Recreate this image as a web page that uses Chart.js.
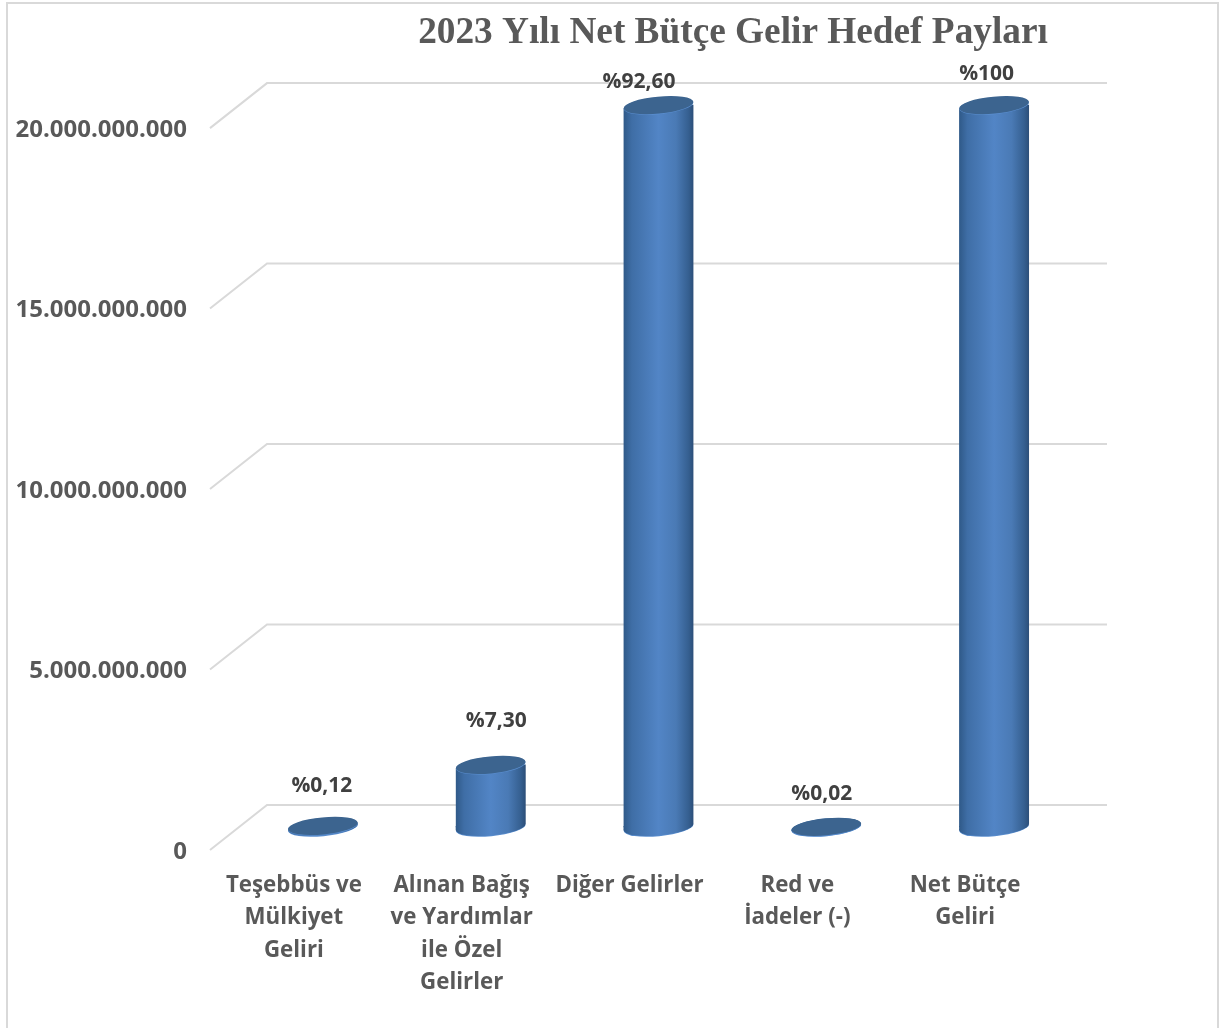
<!DOCTYPE html>
<html>
<head>
<meta charset="utf-8">
<style>
    html, body { margin: 0; padding: 0; background: #fff; overflow: hidden; }
    #wrap { position: relative; width: 1220px; height: 1028px; }
    #frame { position: absolute; left: 6px; top: 2px; width: 1209px; height: 1040px; border: 2px solid #d9d9d9; }
    canvas { position: absolute; left: 0; top: 0; }
</style>
<script src="https://cdn.jsdelivr.net/npm/chart.js@4"></script>
</head>
<body>
<div id="wrap">
    <div id="frame"></div>
    <canvas id="chart" width="1220" height="1028"></canvas>
</div>
<script>
const chartTitle = '2023 Yılı Net Bütçe Gelir Hedef Payları';
const categories = [
    ['Teşebbüs ve', 'Mülkiyet', 'Geliri'],
    ['Alınan Bağış', 've Yardımlar', 'ile Özel', 'Gelirler'],
    'Diğer Gelirler',
    ['Red ve', 'İadeler (-)'],
    ['Net Bütçe', 'Geliri']
];
const targetValues = [30000000, 1720000000, 20000000000, 5000000, 20000000000];
const shareLabels = ['%0,12', '%7,30', '%92,60', '%0,02', '%100'];
const yTicks = [0, 5000000000, 10000000000, 15000000000, 20000000000];

// label placement relative to the top of each cylinder
const labelLift = [39.5, 44, 23, 33, 31];
const labelNudge = [-1, 5.5, -19.5, -4.5, -7.5];

// fake 3D: the bars stand in the middle of the floor
const depthX = 57, depthY = 45;
const barShiftX = 29, barShiftY = 25;
const barWidth = 70, capRy = 8.5, capTilt = -0.095;
const gridLift = 2; // tick text sits a little lower than its gridline

const textFont = '"Open Sans", sans-serif';

const ellipse = (ctx, x, y, fill) => {
    ctx.beginPath();
    ctx.ellipse(x, y, barWidth / 2, capRy, capTilt, 0, Math.PI * 2);
    ctx.fillStyle = fill;
    ctx.fill();
};

const bodyGradient = (ctx, x) => {
    const left = x - barWidth / 2;
    const g = ctx.createLinearGradient(left, 0, left + barWidth, 0);
    g.addColorStop(0, '#2f5988');
    g.addColorStop(0.12, '#3f6ea6');
    g.addColorStop(0.5, '#5285c6');
    g.addColorStop(0.75, '#4a7ab5');
    g.addColorStop(0.93, '#355f90');
    g.addColorStop(1, '#2c4e78');
    return g;
};

const floorGrid = {
    id: 'floorGrid',
    beforeDatasetsDraw(chart) {
        const { ctx, chartArea, scales } = chart;
        ctx.save();
        ctx.strokeStyle = '#d9d9d9';
        ctx.lineWidth = 2;
        scales.y.ticks.forEach(t => {
            const y = scales.y.getPixelForValue(t.value) - gridLift;
            ctx.beginPath();
            ctx.moveTo(chartArea.left, y);
            ctx.lineTo(chartArea.left + depthX, y - depthY);
            ctx.lineTo(chartArea.right + depthX + 1, y - depthY);
            ctx.stroke();
        });
        ctx.restore();
    }
};

// moves the library's bars back onto the middle plane and adds the round ends
const cylinders = {
    id: 'cylinders',
    beforeDatasetDraw(chart) {
        const ctx = chart.ctx;
        const bars = chart.getDatasetMeta(0).data;
        const slant = barWidth / 2 * Math.sin(-capTilt);
        ctx.save();
        ctx.translate(barShiftX, -barShiftY);
        bars.forEach(bar => {
            const l = bar.x - barWidth / 2;
            ellipse(ctx, bar.x, bar.base + 0.7, '#5b8fd0');
            ellipse(ctx, bar.x, bar.base, bodyGradient(ctx, bar.x));
            // left wall has to run down to the low end of the tilted base
            if (bar.base - bar.y > 2) {
                ctx.beginPath();
                ctx.moveTo(l, bar.base - 1);
                ctx.lineTo(l, bar.base + slant);
                ctx.lineTo(bar.x, bar.base);
                ctx.closePath();
                ctx.fillStyle = bodyGradient(ctx, bar.x);
                ctx.fill();
            }
        });
        // cut the square bar ends so they follow the tilted caps
        ctx.save();
        ctx.beginPath();
        bars.forEach(bar => {
            const l = bar.x - barWidth / 2, r = bar.x + barWidth / 2;
            ctx.moveTo(l, bar.y + slant);
            ctx.lineTo(r, bar.y - slant);
            ctx.lineTo(r, bar.base - slant);
            ctx.lineTo(l, bar.base + slant);
            ctx.closePath();
        });
        ctx.clip();
    },
    afterDatasetDraw(chart) {
        const ctx = chart.ctx;
        ctx.restore();
        chart.getDatasetMeta(0).data.forEach(bar => {
            ellipse(ctx, bar.x, bar.y + 0.6, '#5b8fd0');
            ellipse(ctx, bar.x, bar.y, '#3c648f');
        });
        ctx.restore();
    }
};

const shareText = {
    id: 'shareText',
    afterDraw(chart) {
        const { ctx } = chart;
        ctx.save();
        ctx.textAlign = 'center';
        ctx.textBaseline = 'middle';
        ctx.fillStyle = '#404040';
        ctx.font = 'bold 21px ' + textFont;
        chart.getDatasetMeta(0).data.forEach((bar, i) => {
            ctx.fillText(shareLabels[i], bar.x + barShiftX + labelNudge[i], bar.y - barShiftY - labelLift[i]);
        });
        ctx.fillStyle = '#595959';
        ctx.font = 'bold 37.3px "Liberation Serif", serif';
        ctx.fillText(chartTitle, 733, 33);
        ctx.restore();
    }
};

new Chart(document.getElementById('chart'), {
    type: 'bar',
    data: {
        labels: categories,
        datasets: [{
            data: targetValues,
            barThickness: barWidth,
            clip: false,
            backgroundColor: c => {
                const x = c.chart.scales.x;
                return x && c.dataIndex !== undefined
                    ? bodyGradient(c.chart.ctx, x.getPixelForTick(c.dataIndex))
                    : '#4f81bd';
            }
        }]
    },
    plugins: [floorGrid, cylinders, shareText],
    options: {
        responsive: false,
        animation: false,
        layout: { padding: { top: 85, right: 171, left: 0, bottom: 0 } },
        plugins: {
            legend: { display: false },
            tooltip: { enabled: false }
        },
        scales: {
            x: {
                grid: { display: false },
                border: { display: false },
                afterFit: scale => { scale.height = 176; },
                ticks: {
                    color: '#595959',
                    padding: 9,
                    maxRotation: 0,
                    autoSkip: false,
                    font: { family: textFont, size: 22.3, weight: 'bold', lineHeight: 1.46 }
                }
            },
            y: {
                min: 0,
                max: 21250000000,
                grid: { display: false },
                border: { display: false },
                afterFit: scale => { scale.width = 210; },
                afterBuildTicks: scale => { scale.ticks = yTicks.map(value => ({ value })); },
                ticks: {
                    color: '#595959',
                    padding: 15,
                    font: { family: textFont, size: 24, weight: 'bold' },
                    callback: v => String(v).replace(/\B(?=(\d{3})+$)/g, '.')
                }
            }
        }
    }
});
</script>
</body>
</html>
